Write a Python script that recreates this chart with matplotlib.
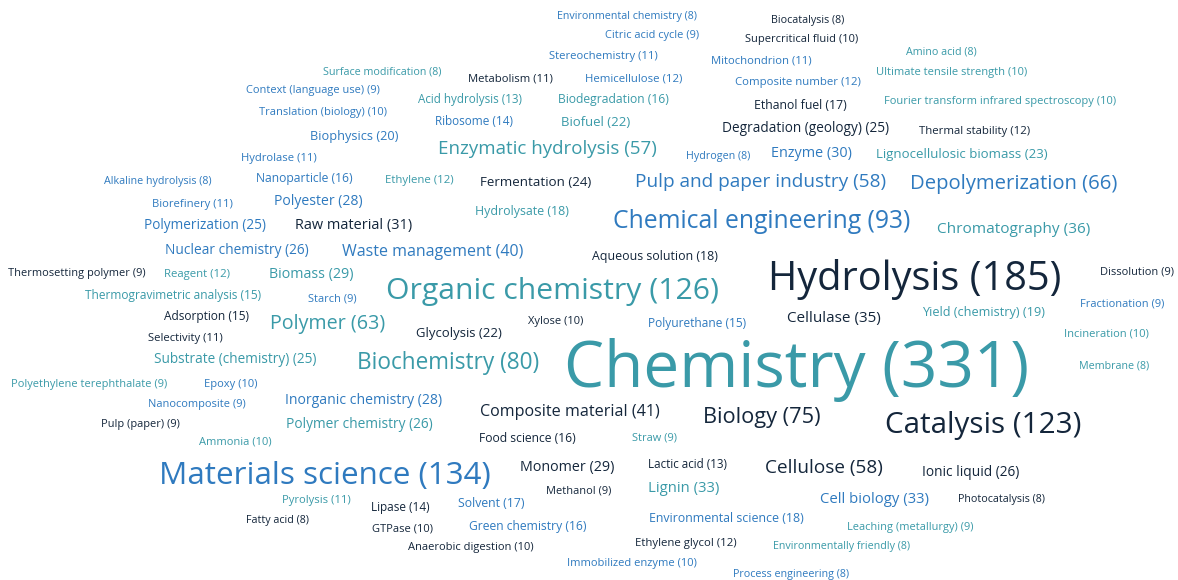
import matplotlib
matplotlib.use("Agg")
from matplotlib import pyplot as plt

# keyword cloud: term, number of papers
terms = [
    "Chemistry", "Hydrolysis", "Materials science", "Organic chemistry", "Catalysis",
    "Chemical engineering", "Biochemistry", "Biology", "Depolymerization", "Polymer",
    "Pulp and paper industry", "Cellulose", "Enzymatic hydrolysis", "Composite material",
    "Waste management", "Chromatography", "Cellulase", "Lignin", "Cell biology",
    "Raw material", "Enzyme", "Biomass", "Monomer", "Polyester", "Inorganic chemistry",
    "Nuclear chemistry", "Polymer chemistry", "Ionic liquid", "Degradation (geology)",
    "Polymerization", "Substrate (chemistry)", "Fermentation", "Lignocellulosic biomass",
    "Biofuel", "Glycolysis", "Biophysics", "Yield (chemistry)", "Hydrolysate",
    "Aqueous solution", "Environmental science", "Ethanol fuel", "Solvent",
    "Biodegradation", "Nanoparticle", "Food science", "Green chemistry",
    "Thermogravimetric analysis", "Adsorption", "Polyurethane", "Ribosome", "Lipase",
    "Acid hydrolysis", "Lactic acid", "Hemicellulose", "Composite number", "Thermal stability",
    "Reagent", "Ethylene", "Ethylene glycol", "Stereochemistry", "Metabolism",
    "Mitochondrion", "Hydrolase", "Biorefinery", "Selectivity", "Pyrolysis",
    "Supercritical fluid", "Ultimate tensile strength", "Fourier transform infrared spectroscopy",
    "Translation (biology)", "Xylose", "Epoxy", "Ammonia", "GTPase", "Anaerobic digestion",
    "Immobilized enzyme", "Incineration", "Citric acid cycle", "Context (language use)",
    "Thermosetting polymer", "Starch", "Dissolution", "Fractionation",
    "Polyethylene terephthalate", "Nanocomposite", "Pulp (paper)", "Straw", "Methanol",
    "Leaching (metallurgy)", "Environmental chemistry", "Biocatalysis", "Amino acid",
    "Surface modification", "Alkaline hydrolysis", "Hydrogen", "Membrane", "Fatty acid",
    "Photocatalysis", "Environmentally friendly", "Process engineering",
]
counts = [
    331, 185, 134, 126, 123,
    93, 80, 75, 66, 63,
    58, 58, 57, 41,
    40, 36, 35, 33, 33,
    31, 30, 29, 29, 28, 28,
    26, 26, 26, 25,
    25, 25, 24, 23,
    22, 22, 20, 19, 18,
    18, 18, 17, 17,
    16, 16, 16, 16,
    15, 15, 15, 14, 14,
    13, 13, 12, 12, 12,
    12, 12, 12, 11, 11,
    11, 11, 11, 11, 11,
    10, 10, 10,
    10, 10, 10, 10, 10, 10,
    10, 10, 9, 9,
    9, 9, 9, 9,
    9, 9, 9, 9, 9,
    9, 8, 8, 8,
    8, 8, 8, 8, 8,
    8, 8, 8,
]
# colour group of each term: t = teal, b = blue, d = dark navy
groups = [
    "t", "d", "b", "t", "d",
    "b", "t", "d", "b", "t",
    "b", "d", "t", "d",
    "b", "t", "d", "t", "b",
    "d", "b", "t", "d", "b", "b",
    "b", "t", "d", "d",
    "b", "t", "d", "t",
    "t", "d", "b", "t", "t",
    "d", "b", "d", "b",
    "t", "b", "d", "b",
    "t", "d", "b", "b", "d",
    "t", "d", "b", "b", "d",
    "t", "t", "d", "b", "d",
    "b", "b", "b", "d", "t",
    "d", "t", "t",
    "b", "d", "b", "t", "d", "d",
    "b", "t", "b", "b",
    "d", "b", "d", "b",
    "t", "b", "d", "t", "d",
    "t", "b", "d", "t",
    "t", "b", "b", "t", "d",
    "d", "t", "b",
]

# layout of the cloud (pixel centres in a 1178 x 580 canvas)
pos_x = [
    797, 915, 325, 552, 983,
    762, 448, 762, 1014, 328,
    761, 824, 547, 570,
    433, 1014, 834, 684, 875,
    354, 811, 311, 567, 318, 364,
    237, 359, 971, 806,
    205, 235, 536, 962,
    596, 459, 354, 984, 522,
    655, 726, 800, 491,
    613, 304, 527, 528,
    173, 206, 697, 474, 400,
    470, 687, 634, 798, 975,
    197, 419, 686, 603, 510,
    761, 279, 192, 185, 316,
    802, 952, 1000,
    323, 556, 231, 235, 403, 471,
    632, 1106, 652, 313,
    77, 332, 1137, 1122,
    89, 197, 140, 655, 579,
    910, 627, 808, 941,
    382, 158, 718, 1114, 277,
    1001, 842, 791,
]
pos_y = [
    366, 276, 473, 289, 423,
    219, 361, 415, 182, 322,
    180, 466, 147, 410,
    250, 228, 317, 487, 498,
    224, 152, 273, 466, 200, 399,
    249, 423, 471, 127,
    224, 358, 181, 153,
    121, 332, 135, 311, 210,
    255, 517, 104, 502,
    98, 177, 437, 525,
    294, 315, 322, 120, 506,
    98, 463, 77, 81, 130,
    273, 179, 542, 55, 77,
    59, 157, 203, 337, 499,
    38, 71, 100,
    111, 320, 383, 440, 527, 546,
    562, 332, 34, 89,
    272, 297, 270, 302,
    383, 403, 423, 436, 489,
    526, 15, 19, 50,
    70, 180, 155, 364, 519,
    498, 545, 573,
]

palette = {"t": "#3a9aa8", "b": "#2f7abf", "d": "#14263b"}

W, H, DPI = 1178, 580, 100
fig = plt.figure(figsize=(W / DPI, H / DPI), dpi=DPI)
ax = fig.add_axes([0, 0, 1, 1])
ax.set_xlim(0, W)
ax.set_ylim(H, 0)
ax.axis("off")

lo, hi = min(counts), max(counts)
for term, n, g, x, y in zip(terms, counts, groups, pos_x, pos_y):
    size_px = 11 + (n - lo) * (65 - 11) / (hi - lo)
    # Open Sans sits a little high with va="center", nudge down
    ax.text(x, y + 1 + size_px * 0.05, f"{term} ({n})", ha="center", va="center",
            fontsize=size_px * 72 / DPI * 0.98, color=palette[g],
            family="Open Sans")

fig.savefig("out.png", dpi=DPI)
